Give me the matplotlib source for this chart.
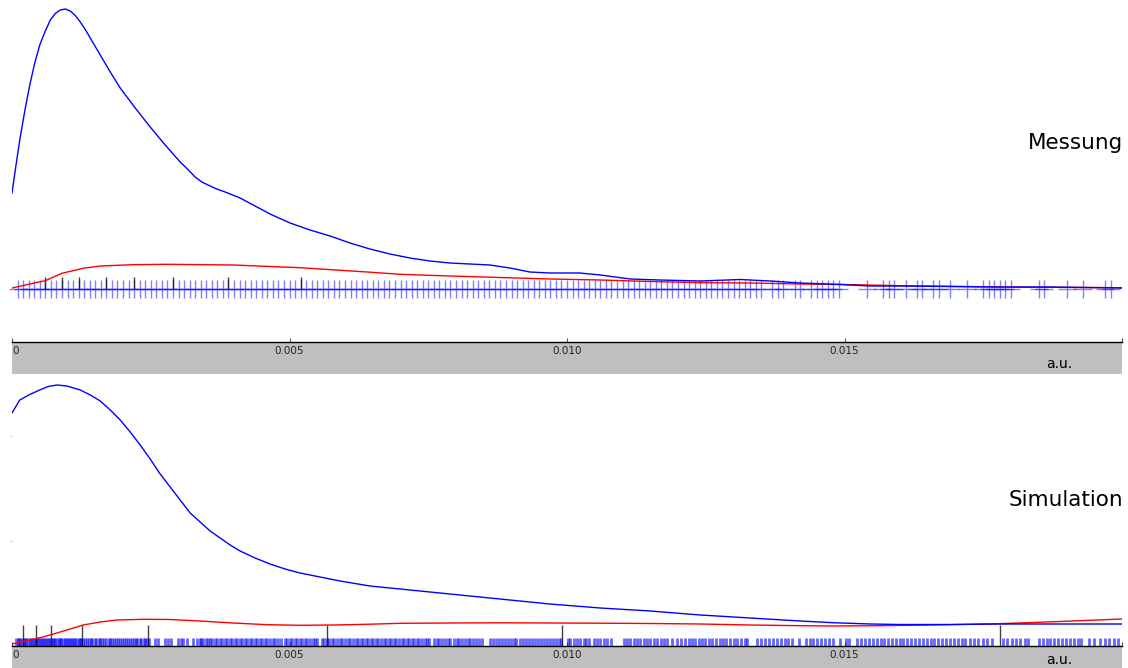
import matplotlib
matplotlib.use("Agg")
import matplotlib.pyplot as plt
from matplotlib.patches import Rectangle

W, H = 1128, 668
GRAY = "#bfbfbf"

# x in units of 1e-3 a.u., curve heights in arbitrary density units
mess_blue_x = [0, 0.07, 0.14, 0.23, 0.32, 0.41, 0.5, 0.6, 0.69, 0.78, 0.87, 0.96, 1.05, 1.14,
               1.23, 1.32, 1.41, 1.59, 1.77, 1.95, 2.22, 2.49, 2.76, 3.03, 3.17, 3.3, 3.42,
               3.57, 3.69, 3.84, 4.11, 4.38, 4.65, 5.01, 5.37, 5.73, 6.09, 6.45, 6.81, 7.17,
               7.53, 7.89, 8.25, 8.61, 8.97, 9.33, 9.69, 10.23, 10.6, 11.14, 11.68, 12.4,
               13.12, 13.66, 14.2, 14.92, 15.46, 16.0, 16.9, 17.8, 18.7, 20.0]
mess_blue = [96, 123, 149, 178, 204, 226, 244, 258, 269, 275.5, 279, 280, 278, 273.5,
             267, 259.5, 251, 234, 217, 201, 181, 162, 144, 127, 119.5, 112, 107,
             103, 100, 97, 91, 83, 75, 66, 59, 53, 46, 40, 35, 31,
             28, 26, 25, 24, 21, 17, 16, 16, 14, 10, 9, 8,
             9.5, 8, 6, 4.5, 3, 3, 2.5, 2, 2, 1]
mess_red_x = [0, 0.32, 0.6, 0.9, 1.28, 1.59, 2.18, 2.79, 3.98, 5.19, 6.4, 6.99, 7.89, 8.79,
              9.69, 10.6, 11.5, 12.4, 13.3, 14.2, 14.97, 16.0, 17.8, 20.0]
mess_red = [1, 5, 8.3, 15.7, 20.7, 23, 24.3, 24.7, 24, 21.3, 17, 14.7, 13, 11.5,
            10, 9, 7.5, 6.3, 6, 5, 4.5, 3.3, 2, 1.3]

sim_blue_x = [0, 0.14, 0.32, 0.5, 0.65, 0.81, 0.99, 1.23, 1.41, 1.59, 1.77, 1.95, 2.13, 2.31,
              2.49, 2.67, 2.85, 3.03, 3.21, 3.39, 3.57, 3.75, 3.93, 4.11, 4.38, 4.65, 4.92,
              5.19, 5.55, 5.91, 6.45, 6.99, 7.89, 8.79, 9.69, 10.6, 11.5, 12.4, 13.3, 14.2,
              14.79, 15.46, 16.0, 16.9, 17.8, 18.7, 20.0]
sim_blue = [233, 246, 251.5, 256, 259.5, 261, 260, 256, 251, 245, 236, 226, 214, 201,
            187, 172, 159, 146, 133, 124, 115, 108, 101, 95, 88, 82, 77,
            73, 69, 65, 60, 57, 52, 47, 42, 38, 35, 31, 28, 25,
            23.3, 22, 21.5, 21.5, 22, 22, 22]
sim_red_x = [0, 0.32, 0.56, 0.87, 1.28, 1.59, 1.89, 2.36, 2.85, 3.39, 3.98, 4.6, 5.19, 5.78,
             6.4, 6.99, 7.89, 8.79, 9.69, 10.6, 11.5, 12.4, 13.3, 14.2, 14.79, 15.64, 16.6,
             17.8, 18.88, 20.0]
sim_red = [2, 6, 9, 14, 21, 24, 26, 26.7, 26.5, 25, 23, 21.3, 20.7, 21,
           21.7, 22.7, 23, 23.2, 23, 22.8, 22.5, 22, 21, 20.3, 20, 20.3, 21,
           22.3, 24.5, 27]

# rug positions, Messung in units of 1e-4, Simulation in units of 1e-5
mess_rug = [1, 2, 3, 4, 5, 6, 7, 8, 9, 10, 11, 12, 13, 14, 15, 16, 17, 18, 19, 20,
            21, 22, 23, 24, 25, 26, 27, 28, 29, 30, 31, 32, 33, 34, 35, 36, 37, 38, 39, 40,
            41, 42, 43, 44, 45, 46, 47, 48, 49, 50, 51, 52, 53, 54, 55, 56, 57, 58, 59, 60,
            61, 62, 63, 64, 65, 66, 67, 68, 69, 70, 71, 72, 73, 74, 75, 76, 77, 78, 79, 80,
            81, 82, 83, 84, 85, 86, 87, 88, 89, 90, 91, 92, 93, 94, 95, 96, 97, 98, 99, 100,
            101, 102, 103, 104, 105, 106, 107, 108, 109, 110, 111, 112, 113, 114, 115, 116,
            117, 118, 119, 120, 121, 122, 123, 124, 125, 126, 127, 128, 129, 130, 131, 132,
            133, 134, 135, 137, 138, 139, 141, 142, 144, 145, 146, 147, 148, 149,
            154, 157, 158, 159, 161, 163, 164, 166, 167, 169, 172, 175, 176, 177, 178, 179,
            180, 185, 186, 190, 193, 197, 198]
sim_rug = [7, 10, 12, 15, 18, 21, 23, 26, 29, 32, 34, 37, 40, 43, 45, 48, 51, 54, 56, 59,
           62, 65, 67, 70, 73, 76, 78, 81, 84, 87, 89, 92, 95, 98, 100, 103, 106, 109, 111,
           114, 117, 120, 122, 125, 128, 132, 135, 138, 142, 145, 149, 152, 156, 159, 163,
           166, 170, 174, 177, 181, 184, 188, 191, 195, 198, 202, 205, 209, 212, 216, 219,
           223, 226, 230, 233, 237, 240, 243, 247, 258, 263, 276, 281, 287, 299, 304, 309,
           315, 327, 333, 338, 341, 345, 349, 353, 357, 361, 365, 369, 375, 379, 383, 388,
           392, 396, 401, 405, 410, 414, 419, 424, 428, 433, 437, 442, 447, 451, 455, 460,
           465, 470, 474, 480, 485, 492, 496, 501, 505, 510, 514, 519, 523, 528, 532, 537,
           542, 546, 550, 559, 563, 568, 572, 577, 581, 586, 591, 595, 600, 605, 609, 614,
           619, 623, 628, 632, 637, 642, 646, 651, 656, 660, 665, 670, 674, 679, 683, 688,
           692, 697, 702, 706, 711, 716, 720, 725, 730, 734, 739, 744, 748, 752, 760, 765,
           770, 775, 780, 785, 790, 796, 801, 806, 811, 816, 821, 826, 831, 836, 841, 846,
           862, 867, 872, 877, 883, 888, 893, 899, 904, 909, 915, 920, 926, 931, 937, 942,
           948, 953, 959, 964, 970, 975, 981, 986, 990, 1001, 1006, 1012, 1018, 1024, 1030,
           1035, 1040, 1048, 1054, 1060, 1066, 1072, 1079, 1102, 1108, 1114, 1120, 1126,
           1132, 1138, 1144, 1150, 1157, 1163, 1169, 1175, 1181, 1190, 1198, 1205, 1212,
           1219, 1226, 1231, 1237, 1243, 1249, 1256, 1262, 1268, 1275, 1281, 1287, 1294,
           1300, 1307, 1313, 1320, 1325, 1343, 1350, 1357, 1364, 1371, 1378, 1385, 1392,
           1399, 1405, 1418, 1430, 1437, 1444, 1451, 1458, 1465, 1472, 1479, 1492, 1502,
           1509, 1523, 1530, 1537, 1544, 1551, 1558, 1565, 1572, 1579, 1586, 1593, 1600,
           1605, 1613, 1620, 1627, 1634, 1641, 1648, 1655, 1662, 1669, 1676, 1683, 1690,
           1697, 1704, 1711, 1718, 1726, 1733, 1741, 1749, 1757, 1765, 1785, 1793, 1801,
           1809, 1817, 1825, 1830, 1850, 1857, 1864, 1871, 1878, 1885, 1892, 1899, 1906,
           1913, 1920, 1927, 1940, 1949, 1961, 1969, 1977, 1985, 1992]

# black marks (units of 1e-3)
mess_marks = [0.6, 0.9, 1.21, 1.7, 2.2, 2.9, 3.9, 5.21]
sim_marks = [0.2, 0.43, 0.7, 1.27, 2.45, 5.68, 9.91, 17.8]

tick_pos = [0, 0.005, 0.010, 0.015, 0.020]
tick_labels = ["0", "0.005", "0.010", "0.015", ""]


def fx(px):
    return px / W


def fy(py):
    return 1 - py / H


def setup_axis(ax):
    for s in ["top", "left", "right"]:
        ax.spines[s].set_visible(False)
    ax.spines["bottom"].set_linewidth(1.0)
    ax.set_xlim(0, 0.02)
    ax.set_xticks(tick_pos)
    ax.set_xticklabels(tick_labels)
    ax.xaxis.get_ticklabels()[0].set_horizontalalignment("left")
    ax.tick_params(axis="x", direction="in", length=3, width=0.8, color="#555555",
                   labelsize=7.5, labelcolor="#222222", pad=3)


fig = plt.figure(figsize=(W / 100, H / 100), dpi=100)
fig.patch.set_facecolor("white")

fig.add_artist(Rectangle((fx(12), fy(374)), fx(1110), 32 / H, transform=fig.transFigure,
                         facecolor=GRAY, edgecolor="none", zorder=-1))
fig.add_artist(Rectangle((fx(12), 0), fx(1110), 22 / H, transform=fig.transFigure,
                         facecolor=GRAY, edgecolor="none", zorder=-1))

# Messung
ax1 = fig.add_axes([fx(12), fy(342), fx(1110), 342 / H])
ax1.set_facecolor("none")
setup_axis(ax1)
ax1.set_ylim(-53, 289)
ax1.set_yticks([])
ax1.plot([v * 1e-4 for v in mess_rug], [0] * len(mess_rug), "+", ms=13, mew=1,
         color="blue", alpha=0.5, clip_on=False)
ax1.vlines([v * 1e-3 for v in mess_marks], 0, 12, color="black", lw=1, alpha=0.75)
ax1.plot([v * 1e-3 for v in mess_red_x], mess_red, color="red", lw=1)
ax1.plot([v * 1e-3 for v in mess_blue_x], mess_blue, color="blue", lw=1)

# Simulation
ax2 = fig.add_axes([fx(12), fy(646), fx(1110), 272 / H])
ax2.set_facecolor("none")
setup_axis(ax2)
ax2.set_ylim(0, 272)
ax2.set_yticks([105, 210])
ax2.tick_params(axis="y", length=1.5, width=1, color="#cccccc", labelleft=False)
ax2.plot([v * 1e-5 for v in sim_rug], [0] * len(sim_rug), "|", ms=11.5, mew=2,
         color="blue", alpha=0.6)
ax2.vlines([v * 1e-3 for v in sim_marks], 0, 21, color="black", lw=1, alpha=0.75)
ax2.plot([v * 1e-3 for v in sim_red_x], sim_red, color="red", lw=1)
ax2.plot([v * 1e-3 for v in sim_blue_x], sim_blue, color="blue", lw=1)

fig.text(fx(1123), fy(143), "Messung", ha="right", va="center", fontsize=15.5)
fig.text(fx(1123), fy(500), "Simulation", ha="right", va="center", fontsize=15.5)
fig.text(fx(1072), fy(364), "a.u.", ha="right", va="center", fontsize=10)
fig.text(fx(1072), fy(660), "a.u.", ha="right", va="center", fontsize=10)

fig.savefig("out.png", dpi=100)
